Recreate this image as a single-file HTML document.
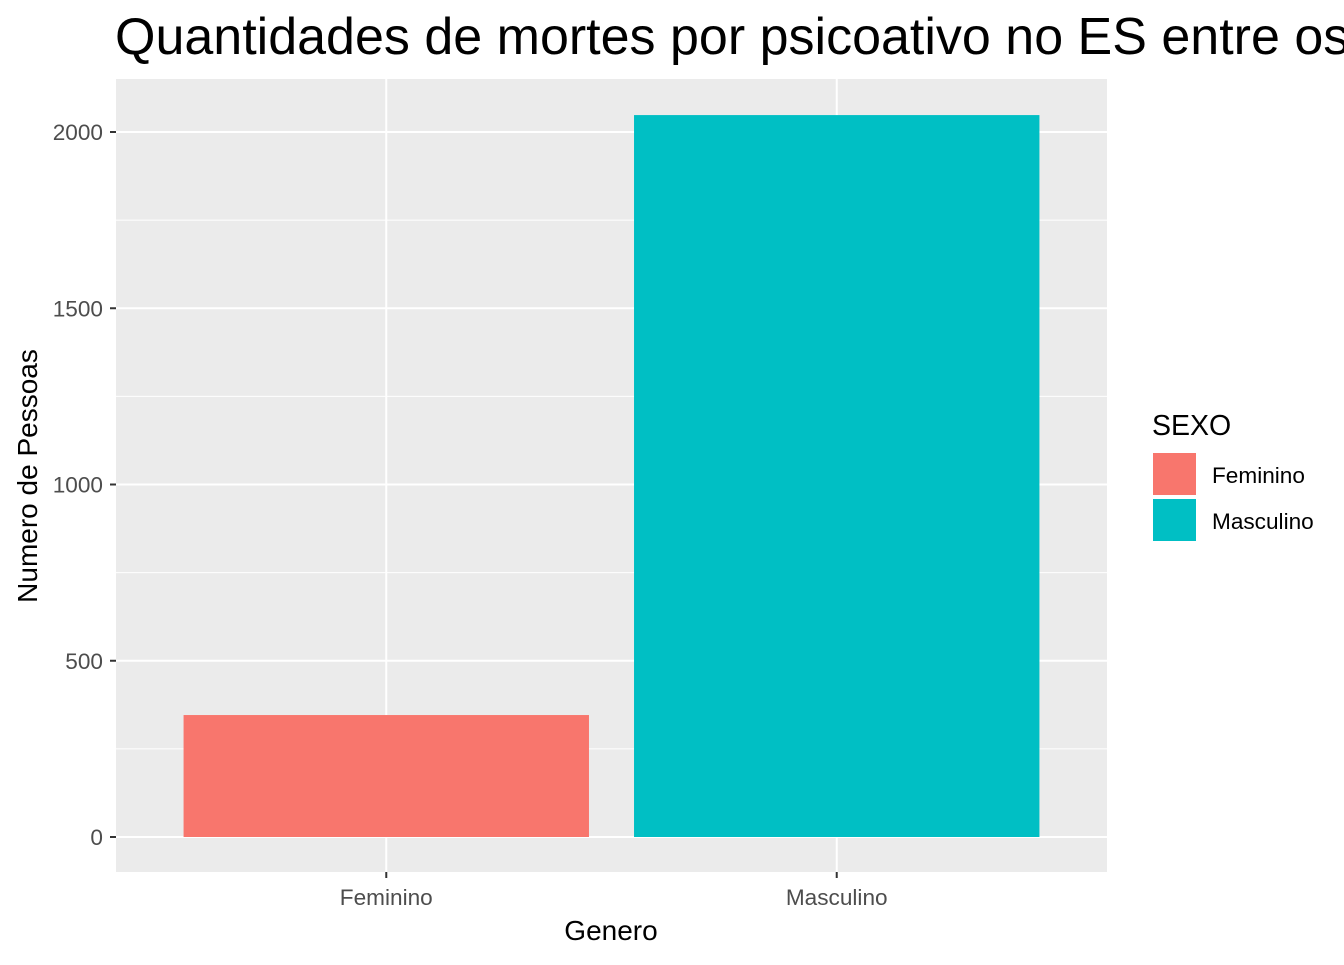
<!DOCTYPE html>
<html><head><meta charset="utf-8"><style>
body{margin:0;background:#fff;width:1344px;height:960px;overflow:hidden;font-family:"Liberation Sans",Arial,sans-serif}
</style></head><body>
<svg id="chart" width="1344" height="960" xmlns="http://www.w3.org/2000/svg" font-family="Liberation Sans, Arial, sans-serif">
<text x="115" y="54" font-size="52" fill="#000">Quantidades de mortes por psicoativo no ES entre os anos de 2018 a 2023</text>
<rect x="116" y="79" width="991" height="793" fill="#ebebeb"/>
<g id="grid"></g><g id="bars"></g><g id="axes"></g>
<text x="611" y="940" font-size="28" text-anchor="middle" fill="#000">Genero</text>
<text transform="translate(37,476) rotate(-90)" font-size="28" text-anchor="middle" fill="#000">Numero de Pessoas</text>
<g>
<text x="1152" y="435" font-size="28.5" fill="#000">SEXO</text>
<rect x="1153" y="453" width="43" height="42" fill="#f8766d"/>
<text x="1212" y="483" font-size="22.6" fill="#000">Feminino</text>
<rect x="1153" y="499" width="43" height="42" fill="#00bfc4"/>
<text x="1212" y="529" font-size="22.6" fill="#000">Masculino</text>
</g>
</svg>
<script>
const categories=["Feminino","Masculino"];
const values=[346,2048];
const colors=["#f8766d","#00bfc4"];
const yTicks=[0,500,1000,1500,2000];
const yMinor=[250,750,1250,1750];
const NS="http://www.w3.org/2000/svg";
const px0=116,px1=1107;
const y=v=>837-v*0.3525;
const band=(px1-px0)/(categories.length+0.2);
const x=i=>px0+band*(0.6+i);
function mk(t,a,p){const e=document.createElementNS(NS,t);for(const k in a)e.setAttribute(k,a[k]);p.appendChild(e);return e;}
const grid=document.getElementById('grid'),bars=document.getElementById('bars'),axes=document.getElementById('axes');
yMinor.forEach(v=>{const l=mk('line',{x1:px0,x2:px1,y1:y(v),y2:y(v),stroke:'#fff','stroke-width':1},grid);

});
yTicks.forEach(v=>{const l=mk('line',{x1:px0,x2:px1,y1:y(v),y2:y(v),stroke:'#fff','stroke-width':2},grid);


const t=mk('line',{x1:110,x2:116,y1:y(v),y2:y(v),stroke:'#333','stroke-width':2},axes);


const tx=mk('text',{x:103,y:y(v)+8,'font-size':22.6,'text-anchor':'end',fill:'#4d4d4d'},axes);tx.textContent=v;

});
categories.forEach((c,i)=>{const cx=x(i);
const g=mk('line',{x1:cx,x2:cx,y1:79,y2:872,stroke:'#fff','stroke-width':2},grid);


const w=band*0.9;
const b=mk('rect',{x:cx-w/2,y:y(values[i]),width:w,height:y(0)-y(values[i]),fill:colors[i]},bars);


const t=mk('line',{x1:cx,x2:cx,y1:872,y2:878,stroke:'#333','stroke-width':2},axes);


const tx=mk('text',{x:cx,y:905,'font-size':22.6,'text-anchor':'middle',fill:'#4d4d4d'},axes);tx.textContent=c;

});
</script>
</body></html>
